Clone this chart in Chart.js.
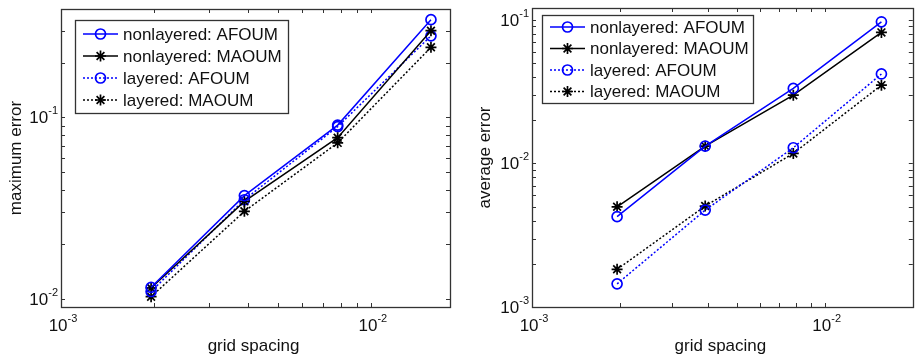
<!DOCTYPE html>
<html>
<head>
<meta charset="utf-8">
<script src="https://cdn.jsdelivr.net/npm/chart.js@4.4.1/dist/chart.umd.min.js"></script>
<style>
  html, body { margin: 0; padding: 0; background: #fff; }
  #wrap { display: flex; width: 920px; height: 359px; }
  .cell { width: 460px; height: 359px; }
</style>
</head>
<body>
<div id="wrap">
  <div class="cell"><canvas id="maxChart" width="460" height="359"></canvas></div>
  <div class="cell"><canvas id="avgChart" width="460" height="359"></canvas></div>
</div>
<script>
// grid spacing h = 1/512 .. 1/64
const gridSpacing = [1 / 512, 1 / 256, 1 / 128, 1 / 64];
const seriesLabels = ['nonlayered: AFOUM', 'nonlayered: MAOUM', 'layered: AFOUM', 'layered: MAOUM'];

// maximum error (left panel)
const maxNonlayeredAfoum = [0.0116, 0.0371, 0.0907, 0.345];
const maxNonlayeredMaoum = [0.0115, 0.0345, 0.0773, 0.300];
const maxLayeredAfoum = [0.0110, 0.0352, 0.0890, 0.281];
const maxLayeredMaoum = [0.0103, 0.0304, 0.0724, 0.243];

// average error (right panel)
const avgNonlayeredAfoum = [0.00426, 0.0132, 0.0333, 0.097];
const avgNonlayeredMaoum = [0.00499, 0.0132, 0.0299, 0.0818];
const avgLayeredAfoum = [0.00145, 0.00473, 0.01286, 0.042];
const avgLayeredMaoum = [0.00183, 0.00505, 0.01175, 0.0351];

// decade exponents used as tick labels
const xTickExponents = [-3, -2];
const maxTickExponents = [-2, -1];
const avgTickExponents = [-3, -2, -1];

const FONT = '"Liberation Sans", Arial, sans-serif';
const INK = '#111';

const styles = [
  { color: '#0000ff', dash: [], point: 'circle' },
  { color: '#000000', dash: [], point: 'star' },
  { color: '#0000ff', dash: [2, 2], point: 'circle' },
  { color: '#000000', dash: [2, 2], point: 'star' }
];

function makeDatasets(seriesList) {
  return seriesList.map((vals, i) => ({
    label: seriesLabels[i],
    data: gridSpacing.map((x, j) => ({ x: x, y: vals[j] })),
    borderColor: styles[i].color,
    backgroundColor: 'rgba(0,0,0,0)',
    borderWidth: 1.5,
    borderDash: styles[i].dash,
    pointStyle: styles[i].point,
    pointRadius: styles[i].point === 'circle' ? 5 : 5.5,
    pointBorderWidth: 1.7,
    pointBorderColor: styles[i].color,
    pointBackgroundColor: 'rgba(0,0,0,0)',
    tension: 0
  }));
}

function logTicks(min, max) {
  const out = [];
  for (let e = Math.floor(Math.log10(min)); e <= Math.ceil(Math.log10(max)); e++) {
    for (let m = 1; m <= 9; m++) {
      const v = m * Math.pow(10, e);
      if (v >= min * 0.9999 && v <= max * 1.0001) out.push(v);
    }
  }
  return out;
}

function drawPow(ctx, x, y, exp, align) {
  // "10" with a raised exponent
  ctx.font = '17px ' + FONT;
  const base = '10';
  const sup = String(exp);
  const wb = ctx.measureText(base).width;
  ctx.font = '11px ' + FONT;
  const ws = ctx.measureText(sup).width;
  let left = x;
  if (align === 'right') left = x - wb - ws;
  if (align === 'center') left = x - (wb + ws) / 2;
  ctx.fillStyle = INK;
  ctx.textAlign = 'left';
  ctx.textBaseline = 'middle';
  ctx.font = '17px ' + FONT;
  ctx.fillText(base, left, y);
  ctx.font = '11px ' + FONT;
  ctx.fillText(sup, left + wb, y - 7);
}

// MATLAB-like axes box, inward ticks, labels and inside legend
const matlabAxes = {
  id: 'matlabAxes',
  beforeDatasetsDraw(chart, args, opts) {
    const { ctx, chartArea: a, scales } = chart;
    const xs = scales.x, ys = scales.y;
    ctx.save();
    ctx.strokeStyle = '#333';
    ctx.lineWidth = 1;
    ctx.setLineDash([]);
    const tl = 4;
    logTicks(xs.min, xs.max).forEach(v => {
      const px = Math.round(xs.getPixelForValue(v)) + 0.5;
      ctx.beginPath();
      ctx.moveTo(px, a.bottom); ctx.lineTo(px, a.bottom - tl);
      ctx.moveTo(px, a.top); ctx.lineTo(px, a.top + tl);
      ctx.stroke();
    });
    logTicks(ys.min, ys.max).forEach(v => {
      const py = Math.round(ys.getPixelForValue(v)) + 0.5;
      ctx.beginPath();
      ctx.moveTo(a.left, py); ctx.lineTo(a.left + tl, py);
      ctx.moveTo(a.right, py); ctx.lineTo(a.right - tl, py);
      ctx.stroke();
    });
    ctx.lineWidth = 1.3;
    ctx.strokeRect(Math.round(a.left) + 0.5, Math.round(a.top) + 0.5,
      Math.round(a.right - a.left), Math.round(a.bottom - a.top));

    opts.xExp.forEach(e => {
      drawPow(ctx, xs.getPixelForValue(Math.pow(10, e)) + 2, a.bottom + 19, e, 'center');
    });
    opts.yExp.forEach(e => {
      drawPow(ctx, a.left - 3, ys.getPixelForValue(Math.pow(10, e)) + 1, e, 'right');
    });

    ctx.fillStyle = INK;
    ctx.font = '17px ' + FONT;
    ctx.textAlign = 'center';
    ctx.textBaseline = 'middle';
    ctx.fillText(opts.xTitle, (a.left + a.right) / 2 - 2, 346);
    ctx.translate(opts.yTitleX, (a.top + a.bottom) / 2);
    ctx.rotate(-Math.PI / 2);
    ctx.fillText(opts.yTitle, 0, 0);
    ctx.restore();
  },
  afterDraw(chart, args, opts) {
    const { ctx } = chart;
    const L = opts.legend;
    ctx.save();
    ctx.fillStyle = '#fff';
    ctx.fillRect(L.x, L.y, L.w, L.h);
    ctx.strokeStyle = '#333';
    ctx.lineWidth = 1.3;
    ctx.setLineDash([]);
    ctx.strokeRect(L.x + 0.5, L.y + 0.5, L.w, L.h);
    chart.data.datasets.forEach((ds, i) => {
      const cy = L.y + L.first + i * L.step;
      const x0 = L.x + 8, x1 = L.x + 43;
      ctx.strokeStyle = ds.borderColor;
      ctx.lineWidth = ds.borderWidth;
      ctx.setLineDash(ds.borderDash);
      ctx.beginPath();
      ctx.moveTo(x0, cy); ctx.lineTo(x1, cy);
      ctx.stroke();
      ctx.setLineDash([]);
      ctx.lineWidth = ds.pointBorderWidth;
      ctx.fillStyle = 'rgba(0,0,0,0)';
      Chart.helpers.drawPoint(ctx, {
        pointStyle: ds.pointStyle, radius: ds.pointRadius, rotation: 0,
        borderWidth: ds.pointBorderWidth
      }, (x0 + x1) / 2, cy);
      ctx.fillStyle = INK;
      ctx.font = '17px ' + FONT;
      ctx.textAlign = 'left';
      ctx.textBaseline = 'middle';
      ctx.fillText(ds.label, L.x + 48, cy + 1);
    });
    ctx.restore();
  }
};

function buildChart(canvasId, seriesList, cfg) {
  const ctx = document.getElementById(canvasId);
  return new Chart(ctx, {
    type: 'line',
    data: { datasets: makeDatasets(seriesList) },
    plugins: [matlabAxes],
    options: {
      responsive: false,
      animation: false,
      devicePixelRatio: 1,
      layout: { padding: { left: 0, top: cfg.top, right: cfg.right, bottom: 0 } },
      scales: {
        x: {
          type: 'logarithmic', min: 0.001, max: cfg.xMax,
          grid: { display: false }, border: { display: false },
          ticks: { display: false },
          afterFit: s => { s.height = 359 - 307; }
        },
        y: {
          type: 'logarithmic', min: cfg.yMin, max: cfg.yMax,
          grid: { display: false }, border: { display: false },
          ticks: { display: false },
          afterFit: s => { s.width = cfg.left; }
        }
      },
      plugins: {
        legend: { display: false },
        tooltip: { enabled: false },
        matlabAxes: {
          xExp: xTickExponents, yExp: cfg.yExp,
          xTitle: 'grid spacing', yTitle: cfg.yTitle, yTitleX: cfg.yTitleX,
          legend: cfg.legend
        }
      }
    }
  });
}

buildChart('maxChart', [maxNonlayeredAfoum, maxNonlayeredMaoum, maxLayeredAfoum, maxLayeredMaoum], {
  top: 9, right: 10, left: 61, xMax: 0.018, yMin: 0.00904, yMax: 0.395,
  yExp: maxTickExponents, yTitle: 'maximum error', yTitleX: 16,
  legend: { x: 75, y: 20, w: 213, h: 93, first: 14, step: 22 }
});

buildChart('avgChart', [avgNonlayeredAfoum, avgNonlayeredMaoum, avgLayeredAfoum, avgLayeredMaoum], {
  top: 8, right: 1, left: 72, xMax: 0.02, yMin: 0.001, yMax: 0.121,
  yExp: avgTickExponents, yTitle: 'average error', yTitleX: 25,
  legend: { x: 82, y: 15, w: 211, h: 88, first: 12, step: 21.5 }
});
</script>
</body>
</html>
